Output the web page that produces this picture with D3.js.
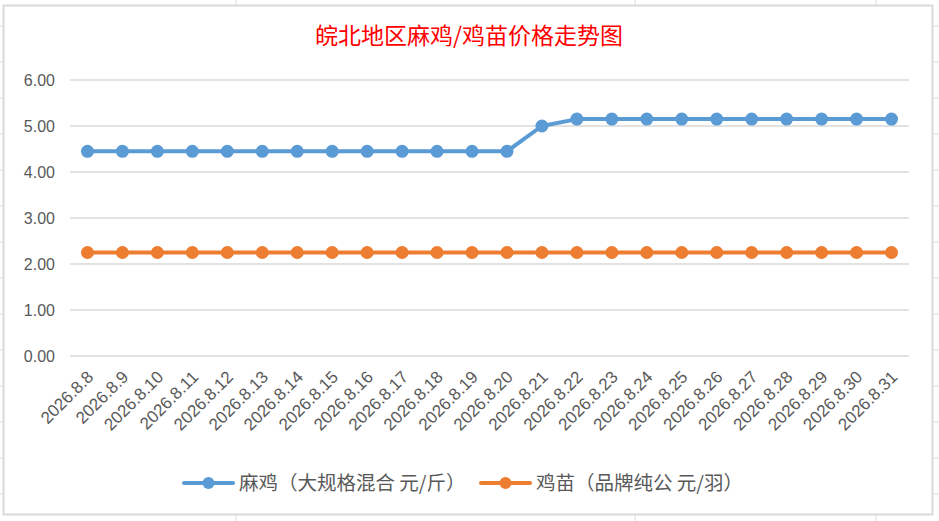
<!DOCTYPE html>
<html>
<head>
<meta charset="utf-8">
<script src="https://cdn.jsdelivr.net/npm/d3@7"></script>
<style>
  body { margin: 0; background: #fff; }
  #chart { width: 939px; height: 521px; }
  text { fill: #595959; }
</style>
</head>
<body>
<div id="chart"></div>
<script>
    var dates = ["2026.8.8","2026.8.9","2026.8.10","2026.8.11","2026.8.12","2026.8.13",
        "2026.8.14","2026.8.15","2026.8.16","2026.8.17","2026.8.18","2026.8.19",
        "2026.8.20","2026.8.21","2026.8.22","2026.8.23","2026.8.24","2026.8.25",
        "2026.8.26","2026.8.27","2026.8.28","2026.8.29","2026.8.30","2026.8.31"];

    var maji = [4.45,4.45,4.45,4.45,4.45,4.45,4.45,4.45,4.45,4.45,4.45,4.45,
        4.45,5.0,5.15,5.15,5.15,5.15,5.15,5.15,5.15,5.15,5.15,5.15];

    var jimiao = [2.25,2.25,2.25,2.25,2.25,2.25,2.25,2.25,2.25,2.25,2.25,2.25,
        2.25,2.25,2.25,2.25,2.25,2.25,2.25,2.25,2.25,2.25,2.25,2.25];

    var yTicks = [0,1,2,3,4,5,6];

    var seriesNames = ["麻鸡（大规格混合 元/斤）", "鸡苗（品牌纯公 元/羽）"];
    var seriesColors = ["#5b9bd5", "#ed7d31"];
    var title = "皖北地区麻鸡/鸡苗价格走势图";

    var width = 939, height = 521;
    var svg = d3.select("#chart")
        .append("svg")
        .attr("width", width)
        .attr("height", height);

    // spreadsheet cells behind the chart
    var rows = d3.range(26, height, 36);
    svg.selectAll(".rowline")
        .data(rows)
        .enter()
        .append("line")
            .attr("x1", 0).attr("x2", width)
            .attr("y1", function(d) { return d; })
            .attr("y2", function(d) { return d; })
            .attr("stroke", "#dadada");
    svg.selectAll(".colline")
        .data([236, 635, 876])
        .enter()
        .append("line")
            .attr("y1", 0).attr("y2", height)
            .attr("x1", function(d) { return d; })
            .attr("x2", function(d) { return d; })
            .attr("stroke", "#dadada");

    svg.append("rect")
        .attr("x", 3.5).attr("y", 5.5)
        .attr("width", 929).attr("height", 509)
        .attr("fill", "#fff")
        .attr("stroke", "#d9d9d9")
        .attr("stroke-width", 2);

    var x = d3.scaleBand()
        .domain(dates)
        .range([70, 909]);

    var y = d3.scaleLinear()
        .domain([0, 6])
        .range([356, 80]);

    // gridlines
    svg.selectAll(".grid")
        .data(yTicks)
        .enter()
        .append("line")
            .attr("x1", 70).attr("x2", 909)
            .attr("y1", function(d) { return y(d); })
            .attr("y2", function(d) { return y(d); })
            .attr("stroke", "#d9d9d9")
            .attr("stroke-width", 1.3);

    var yAxis = svg.append("g")
        .attr("transform", "translate(55,0)")
        .call(d3.axisLeft(y).tickValues(yTicks).tickFormat(d3.format(".2f")).tickSize(0).tickPadding(0));
    yAxis.select(".domain").remove();
    yAxis.selectAll("text")
        .attr("font-family", "Liberation Sans, sans-serif")
        .attr("font-size", 16)
        .attr("fill", "#595959");

    var xAxis = svg.append("g")
        .attr("transform", "translate(0,356)")
        .call(d3.axisBottom(x).tickSize(0));
    xAxis.select(".domain").remove();
    xAxis.selectAll("text")
        .attr("font-family", "Liberation Sans, sans-serif")
        .attr("font-size", 17)
        .attr("fill", "#595959")
        .attr("text-anchor", "end")
        .attr("dy", null)
        .attr("y", 0)
        .attr("transform", "translate(7,22) rotate(-45)");

    var line = d3.line()
        .x(function(d, i) { return x(dates[i]) + x.bandwidth() / 2; })
        .y(function(d) { return y(d); });

    [maji, jimiao].forEach(function(values, k) {
        svg.append("path")
            .datum(values)
            .attr("fill", "none")
            .attr("stroke", seriesColors[k])
            .attr("stroke-width", 4)
            .attr("stroke-linejoin", "round")
            .attr("d", line);

        svg.selectAll(".dot" + k)
            .data(values)
            .enter()
            .append("circle")
                .attr("cx", function(d, i) { return x(dates[i]) + x.bandwidth() / 2; })
                .attr("cy", function(d) { return y(d); })
                .attr("r", 6.5)
                .attr("fill", seriesColors[k]);
    });

    svg.append("text")
        .attr("x", 469)
        .attr("y", 44)
        .attr("text-anchor", "middle")
        .attr("font-family", "Noto Sans CJK SC")
        .attr("font-size", 23)
        .style("fill", "#ff0000")
        .text(title);

    // legend
    var legendX = [184, 481];
    var legend = svg.selectAll(".legend")
        .data(seriesNames)
        .enter()
        .append("g")
            .attr("transform", function(d, i) { return "translate(" + legendX[i] + ",483)"; });
    legend.append("line")
        .attr("x1", 0).attr("x2", 49)
        .attr("stroke", function(d, i) { return seriesColors[i]; })
        .attr("stroke-width", 4)
        .attr("stroke-linecap", "round");
    legend.append("circle")
        .attr("cx", 24.5)
        .attr("r", 6)
        .attr("fill", function(d, i) { return seriesColors[i]; });
    legend.append("text")
        .attr("x", 55)
        .attr("y", 7)
        .attr("font-family", "Noto Sans CJK SC")
        .attr("font-size", 19.5)
        .attr("fill", "#595959")
        .text(function(d) { return d; });
</script>
</body>
</html>
